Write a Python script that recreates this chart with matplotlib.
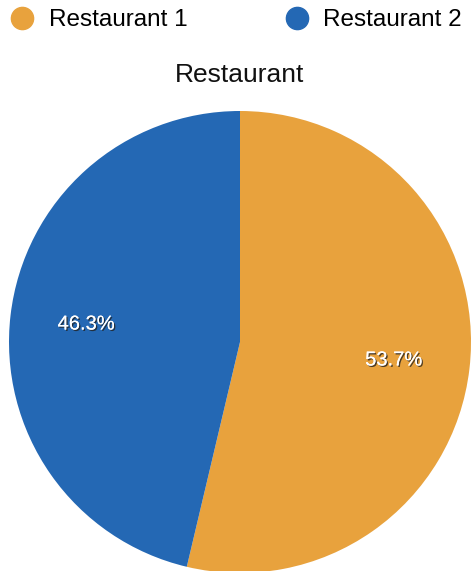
import matplotlib
matplotlib.use("Agg")
import matplotlib.pyplot as plt
import matplotlib.patheffects as pe
from matplotlib.lines import Line2D

plt.rcParams['font.family'] = ['Liberation Sans', 'DejaVu Sans']

categories = ["Restaurant 1", "Restaurant 2"]
values = [53.7, 46.3]
colors = ["#E8A23D", "#2468B4"]
title = "Restaurant"

W, H = 471, 571
fig = plt.figure(figsize=(W / 100, H / 100), dpi=100)

# pie occupies a square of radius ~231 px centred at (240, 342) px
cx, cy, r = 240, 342, 231
ax = fig.add_axes([(cx - r) / W, (H - cy - r) / H, 2 * r / W, 2 * r / H])
wedges, texts, autotexts = ax.pie(
    values, colors=colors, startangle=90, counterclock=False,
    autopct="%.1f%%", pctdistance=0.67, radius=1.0,
    wedgeprops=dict(linewidth=0),
    textprops=dict(color="white", fontsize=14.5),
)
for t in autotexts:
    t.set_path_effects([pe.withSimplePatchShadow(offset=(1, -1), shadow_rgbFace="#222222", alpha=0.8),
                        pe.Normal()])
ax.set_xlim(-1, 1)
ax.set_ylim(-1, 1)
ax.set_aspect("equal")
ax.axis("off")

fig.text(cx / W, 1 - 75 / H, title, ha="center", va="center", fontsize=19, color="#111111")

handles = [Line2D([], [], marker="o", linestyle="", markersize=16,
                  markerfacecolor=c, markeredgecolor=c) for c in colors]
fig.legend(handles, categories, loc="center left", bbox_to_anchor=(5 / W, 1 - 20 / H),
           ncol=2, frameon=False, fontsize=17.5, handlelength=1.0, handletextpad=0.6,
           columnspacing=4.0, borderaxespad=0, borderpad=0.2)

fig.savefig("out.png", dpi=100)
